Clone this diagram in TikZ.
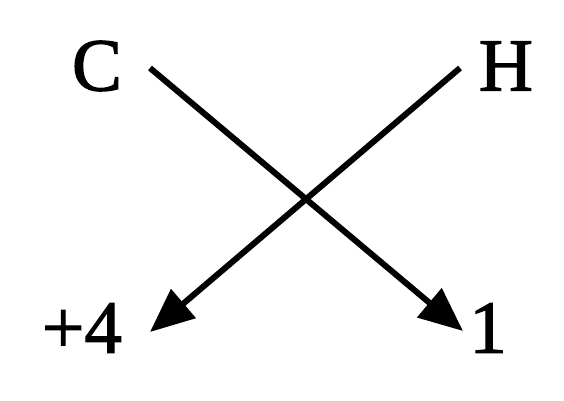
\documentclass[tikz,border=0pt]{standalone}
\usepackage{fontspec}
\setmainfont{Liberation Serif}[FakeBold=1.6]
\usetikzlibrary{arrows.meta}
\begin{document}
\begin{tikzpicture}[x=1pt,y=1pt,
  lbl/.style={inner sep=0pt,font=\fontsize{75}{80}\selectfont},
  arr/.style={line width=6pt,-{Triangle[length=44pt,width=37pt]}}]
\useasboundingbox (0,0) rectangle (564,400);
\node[lbl] (C) at (97,334) {C};
\node[lbl] (H) at (506,334) {H};
\node[lbl] (p4) at (82,72) {+4};
\node[lbl] (one) at (488,72) {1};
\coordinate (c1) at (150,332);
\coordinate (c2) at (463,69);
\coordinate (h1) at (460,332);
\coordinate (h2) at (150,68);
\draw[arr] (c1) -- (c2);
\draw[arr] (h1) -- (h2);
\end{tikzpicture}
\end{document}
